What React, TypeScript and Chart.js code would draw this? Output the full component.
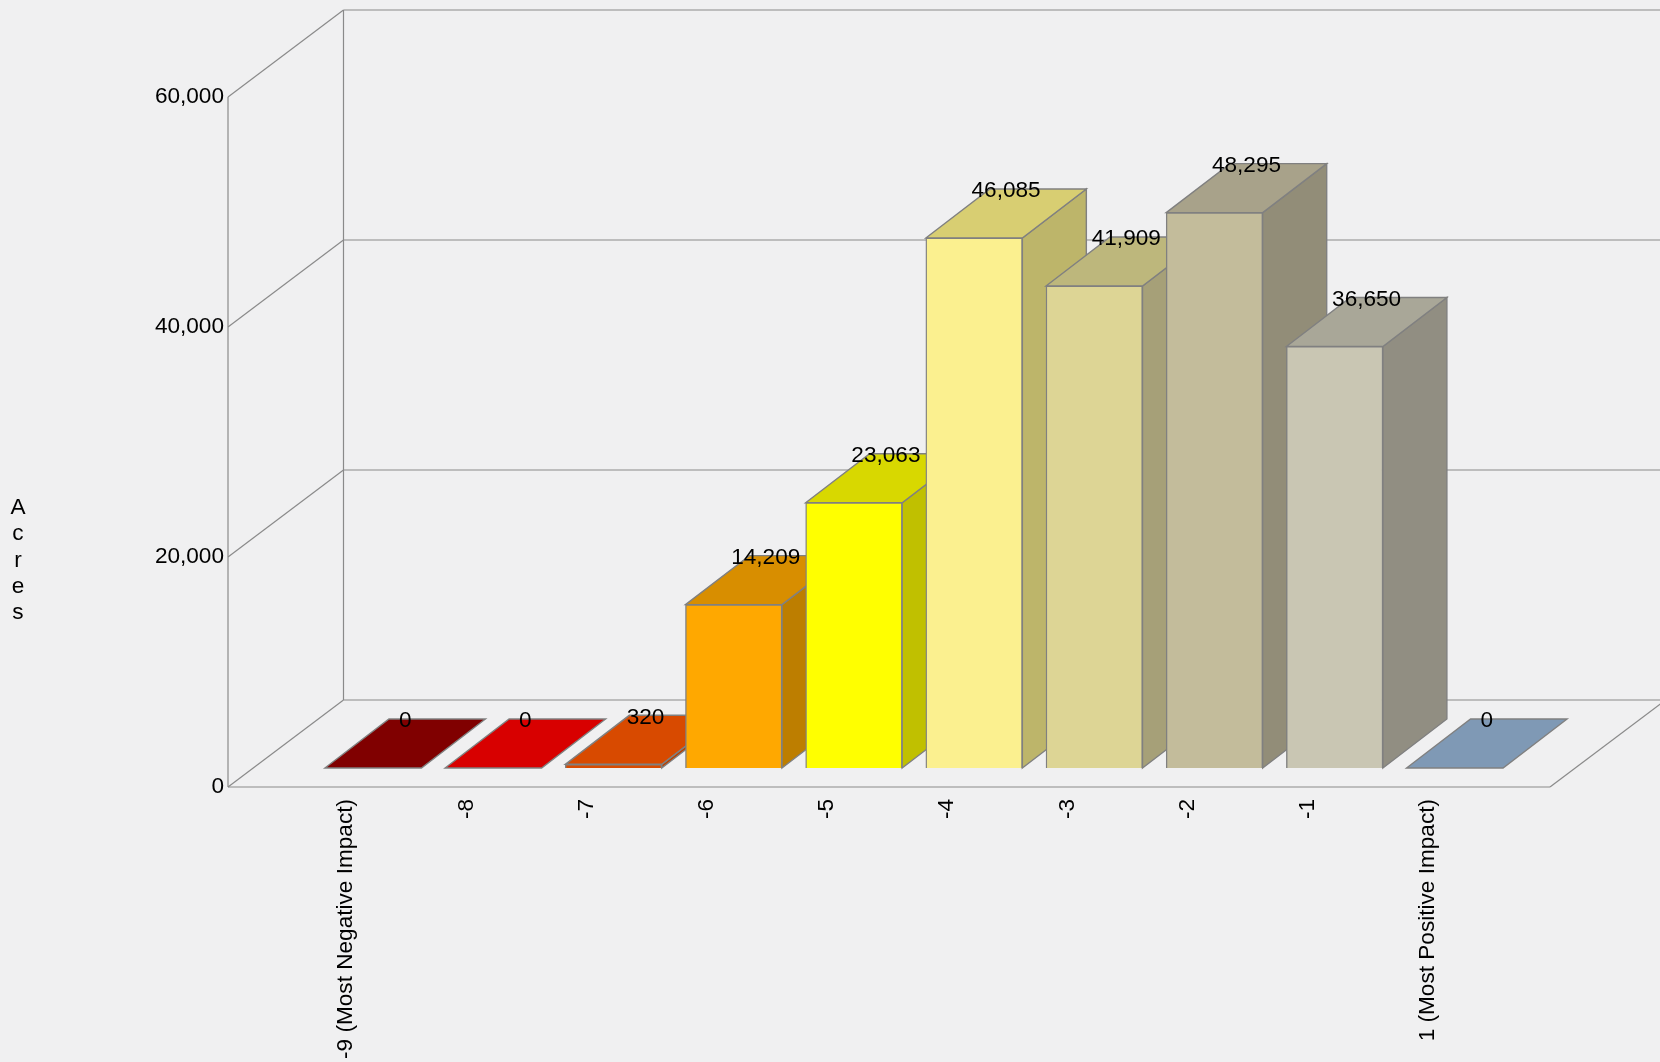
import React, { useEffect, useRef } from "react";
import { Chart, registerables } from "chart.js";

Chart.register(...registerables);

const categories = ["-9 (Most Negative Impact)", "-8", "-7", "-6", "-5", "-4", "-3", "-2", "-1", "1 (Most Positive Impact)"];
const acres = [0, 0, 320, 14209, 23063, 46085, 41909, 48295, 36650, 0];
const yTicks = [0, 20000, 40000, 60000];
const axisTitle = "Acres";

const frontColors = ["#800000", "#D80000", "#D84A00", "#FFA800", "#FFFF00", "#FBF08F", "#DDD595", "#C3BC9B", "#C9C6B3", "#7F99B5"];
const topColors = ["#800000", "#D80000", "#D84A00", "#D88E00", "#D8D800", "#D8CE72", "#BDB77C", "#A8A28A", "#A9A798", "#7F99B5"];
const sideColors = ["#800000", "#D80000", "#B84000", "#BD7E00", "#C0C000", "#BDB56A", "#A6A078", "#928D78", "#918E82", "#7F99B5"];

const WIDTH = 1660;
const HEIGHT = 1062;
const FRAME_RIGHT = 1550;
const FRAME_LEFT = 228;
const FRAME_TOP = 97;
const FRAME_BOTTOM = 787;
const WALL_DX = 115.5;
const WALL_DY = 87;
const BAR_OFFSET_X = 25;
const BAR_OFFSET_Y = 19;
const BAR_DEPTH_X = 64;
const BAR_DEPTH_Y = 49;
const BAR_WIDTH = 96.5;
const Y_MAX = 60000;
const EDGE = "#808080";
const GRID = "#8a8a8a";
const FONT_FAMILY = "'Liberation Sans', Arial, sans-serif";
const FONT_SIZE = 22.6;

const framePlugin = {
  id: "frame3d",
  beforeDatasetsDraw(chart: any) {
    const { ctx } = chart;
    const y = chart.scales.y;
    const x0 = chart.chartArea.left;
    const x1 = chart.chartArea.right;
    const yBottom = y.getPixelForValue(0);
    const yTop = y.getPixelForValue(Y_MAX);
    ctx.save();
    ctx.strokeStyle = GRID;
    ctx.lineWidth = 1.2;
    const line = (a: number, b: number, c: number, d: number) => {
      ctx.beginPath();
      ctx.moveTo(a, b);
      ctx.lineTo(c, d);
      ctx.stroke();
    };
    line(x0, yTop, x0, yBottom);
    line(x0 + WALL_DX, yTop - WALL_DY, x0 + WALL_DX, yBottom - WALL_DY);
    for (const t of yTicks) {
      const py = y.getPixelForValue(t);
      line(x0, py, x0 + WALL_DX, py - WALL_DY);
      line(x0 + WALL_DX, py - WALL_DY, x1 + WALL_DX, py - WALL_DY);
    }
    line(x0, yBottom, x1, yBottom);
    line(x1, yBottom, x1 + WALL_DX, yBottom - WALL_DY);
    ctx.restore();
  },
  beforeDatasetDraw(chart: any) {
    const { ctx } = chart;
    const meta = chart.getDatasetMeta(0);
    ctx.save();
    ctx.translate(BAR_OFFSET_X, -BAR_OFFSET_Y);
    ctx.strokeStyle = EDGE;
    ctx.lineWidth = 1.4;
    const poly = (pts: number[][], fill: string) => {
      ctx.beginPath();
      pts.forEach((p, i) => (i ? ctx.lineTo(p[0], p[1]) : ctx.moveTo(p[0], p[1])));
      ctx.closePath();
      ctx.fillStyle = fill;
      ctx.fill();
      ctx.stroke();
    };
    acres.forEach((_, i) => {
      const bar = meta.data[i + 1];
      const l = bar.x - bar.width / 2;
      const r = bar.x + bar.width / 2;
      const t = bar.y;
      const b = bar.base;
      if (b - t > 0.5) {
        poly([[r, b], [r + BAR_DEPTH_X, b - BAR_DEPTH_Y], [r + BAR_DEPTH_X, t - BAR_DEPTH_Y], [r, t]], sideColors[i]);
      }
      poly([[l, t], [r, t], [r + BAR_DEPTH_X, t - BAR_DEPTH_Y], [l + BAR_DEPTH_X, t - BAR_DEPTH_Y]], topColors[i]);
    });
  },
  afterDatasetDraw(chart: any) {
    chart.ctx.restore();
  },
  afterDatasetsDraw(chart: any) {
    const { ctx } = chart;
    const meta = chart.getDatasetMeta(0);
    ctx.save();
    ctx.font = `${FONT_SIZE}px ${FONT_FAMILY}`;
    ctx.fillStyle = "#000";
    ctx.textAlign = "center";
    ctx.textBaseline = "middle";
    acres.forEach((v, i) => {
      const bar = meta.data[i + 1];
      ctx.fillText(v.toLocaleString("en-US"), bar.x + BAR_OFFSET_X + BAR_DEPTH_X / 2, bar.y - BAR_OFFSET_Y - BAR_DEPTH_Y + 2);
    });
    axisTitle.split("").forEach((ch, i) => {
      ctx.fillText(ch, 18, 508 + i * 26.2);
    });
    ctx.restore();
  },
};

export default function App() {
  const ref = useRef<HTMLCanvasElement>(null);
  useEffect(() => {
    document.body.style.margin = "0";
    document.body.style.background = "#F0F0F1";
    const labels = ["", ...categories, ""];
    const chart = new Chart(ref.current as HTMLCanvasElement, {
      type: "bar",
      data: {
        labels,
        datasets: [
          {
            label: axisTitle,
            data: [null, ...acres, null],
            backgroundColor: ["#0000", ...frontColors, "#0000"],
            borderColor: EDGE,
            borderWidth: 1.4,
            barThickness: BAR_WIDTH,
            clip: false,
          },
        ],
      },
      options: {
        responsive: false,
        animation: false,
        layout: { padding: { left: 0, right: WIDTH - FRAME_RIGHT, top: FRAME_TOP, bottom: 0 } },
        plugins: { legend: { display: false }, title: { display: false }, tooltip: { enabled: false } },
        scales: {
          x: {
            type: "category",
            offset: false,
            grid: { display: false, drawTicks: false, tickLength: 0 },
            border: { display: false },
            afterFit: (s: any) => {
              s.height = HEIGHT - FRAME_BOTTOM;
            },
            ticks: {
              autoSkip: false,
              minRotation: 90,
              maxRotation: 90,
              padding: 12,
              labelOffset: -2,
              color: "#000",
              font: { family: FONT_FAMILY, size: FONT_SIZE },
            },
          },
          y: {
            type: "linear",
            min: 0,
            max: Y_MAX,
            grid: { display: false, drawTicks: false, tickLength: 0 },
            border: { display: false },
            afterFit: (s: any) => {
              s.width = FRAME_LEFT;
            },
            ticks: {
              stepSize: 20000,
              padding: 4,
              color: "#000",
              font: { family: FONT_FAMILY, size: FONT_SIZE },
              callback: (v: any) => Number(v).toLocaleString("en-US"),
            },
          },
        },
      },
      plugins: [framePlugin],
    } as any);
    return () => chart.destroy();
  }, []);
  return (
    <div style={{ position: "absolute", left: 0, top: 0, width: WIDTH, height: HEIGHT, overflow: "hidden" }}>
      <canvas ref={ref} width={WIDTH} height={HEIGHT} style={{ display: "block" }} />
    </div>
  );
}
